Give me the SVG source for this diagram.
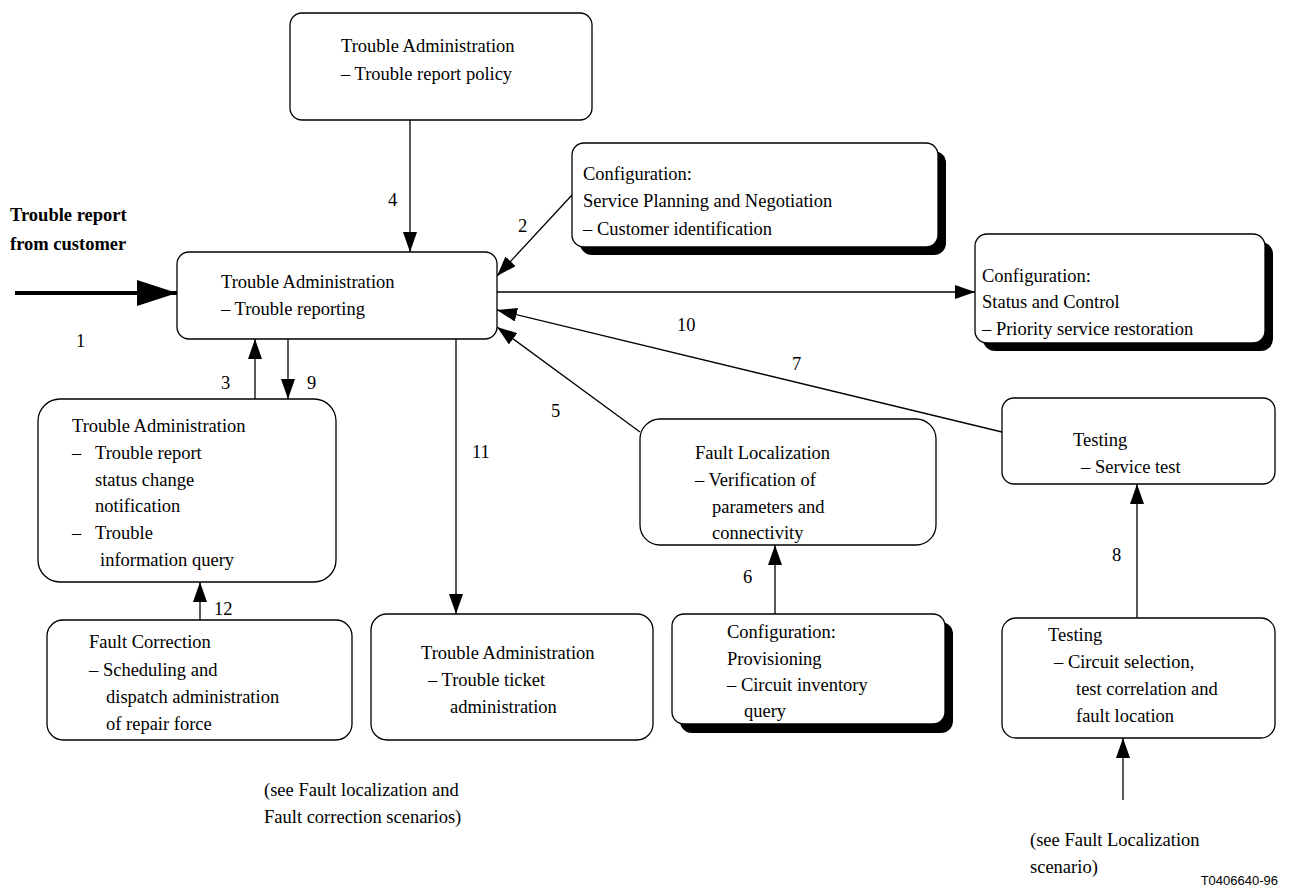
<svg xmlns="http://www.w3.org/2000/svg" width="1290" height="890" viewBox="0 0 1290 890">
<defs>
<marker id="ah" markerWidth="20" markerHeight="14" refX="20" refY="7" orient="auto" markerUnits="userSpaceOnUse"><path d="M0,0 L20,7 L0,14 Z" fill="#000"/></marker>
<marker id="ahb" markerWidth="40" markerHeight="26" refX="40" refY="13" orient="auto" markerUnits="userSpaceOnUse"><path d="M0,0 L40,13 L0,26 Z" fill="#000"/></marker>
</defs>
<style>
.box{fill:#fff;stroke:#000;stroke-width:1.3}
.sh{fill:#000}
text{font-family:"Liberation Serif","Times New Roman",serif;font-size:18.5px;fill:#000}
.b{font-weight:bold}
.sans{font-family:"Liberation Sans",Arial,sans-serif;font-size:13px}
.c{stroke:#000;stroke-width:1.3;fill:none;marker-end:url(#ah)}
</style>
<rect width="1290" height="890" fill="#fff"/>

<g id="connectors">
<line x1="15" y1="293" x2="177" y2="293" stroke="#000" stroke-width="4" marker-end="url(#ahb)"/>
<line class="c" x1="410" y1="120" x2="410" y2="252"/>
<line class="c" x1="572" y1="195" x2="497" y2="276"/>
<line class="c" x1="497" y1="292" x2="975" y2="292"/>
<line class="c" x1="1002" y1="432" x2="497" y2="310"/>
<line class="c" x1="640" y1="432" x2="497" y2="327"/>
<line class="c" x1="255" y1="399" x2="255" y2="339"/>
<line class="c" x1="288" y1="339" x2="288" y2="399"/>
<line class="c" x1="456" y1="339" x2="456" y2="614"/>
<line class="c" x1="775" y1="614" x2="775" y2="545"/>
<line class="c" x1="1137" y1="618" x2="1137" y2="484"/>
<line class="c" x1="200" y1="620" x2="200" y2="582"/>
<line class="c" x1="1123" y1="800" x2="1123" y2="738"/>
<text x="388" y="206">4</text>
<text x="518" y="232">2</text>
<text x="76" y="347">1</text>
<text x="677" y="331">10</text>
<text x="792" y="370">7</text>
<text x="551" y="417">5</text>
<text x="221" y="389">3</text>
<text x="307" y="389">9</text>
<text x="472" y="458">11</text>
<text x="743" y="583">6</text>
<text x="1112" y="561">8</text>
<text x="214" y="615">12</text>
</g>

<g id="customer">
<text class="b" x="10" y="221">Trouble report</text>
<text class="b" x="10" y="250">from customer</text>
</g>

<g id="ta-policy">
<rect class="box" x="290" y="13" width="302" height="107" rx="12"/>
<text x="341" y="52">Trouble Administration</text>
<text x="341" y="80">– Trouble report policy</text>
</g>

<g id="ta-reporting">
<rect class="box" x="177" y="252" width="320" height="87" rx="12"/>
<text x="221" y="288">Trouble Administration</text>
<text x="221" y="315">– Trouble reporting</text>
</g>

<g id="cfg-spn">
<rect class="sh" x="580" y="151" width="366" height="104" rx="12"/>
<rect class="box" x="572" y="143" width="366" height="104" rx="12"/>
<text x="583" y="180">Configuration:</text>
<text x="583" y="207">Service Planning and Negotiation</text>
<text x="583" y="235">– Customer identification</text>
</g>

<g id="cfg-sc">
<rect class="sh" x="983" y="242" width="290" height="109" rx="12"/>
<rect class="box" x="975" y="234" width="290" height="109" rx="12"/>
<text x="982" y="282">Configuration:</text>
<text x="982" y="308">Status and Control</text>
<text x="982" y="335">– Priority service restoration</text>
</g>

<g id="ta-status">
<rect class="box" x="38" y="399" width="298" height="183" rx="22"/>
<text x="72" y="432">Trouble Administration</text>
<text x="72" y="459">–</text><text x="95" y="459">Trouble report</text>
<text x="95" y="486">status change</text>
<text x="95" y="512">notification</text>
<text x="72" y="539">–</text><text x="95" y="539">Trouble</text>
<text x="100" y="566">information query</text>
</g>

<g id="fault-loc">
<rect class="box" x="640" y="419" width="296" height="126" rx="20"/>
<text x="695" y="459">Fault Localization</text>
<text x="695" y="486">– Verification of</text>
<text x="712" y="513">parameters and</text>
<text x="712" y="539">connectivity</text>
</g>

<g id="testing-service">
<rect class="box" x="1002" y="398" width="273" height="86" rx="12"/>
<text x="1073" y="446">Testing</text>
<text x="1081" y="473">– Service test</text>
</g>

<g id="fault-corr">
<rect class="box" x="47" y="620" width="305" height="120" rx="16"/>
<text x="89" y="648">Fault Correction</text>
<text x="89" y="676">– Scheduling and</text>
<text x="106" y="703">dispatch administration</text>
<text x="106" y="730">of repair force</text>
</g>

<g id="ta-ticket">
<rect class="box" x="371" y="614" width="282" height="126" rx="16"/>
<text x="421" y="659">Trouble Administration</text>
<text x="428" y="686">– Trouble ticket</text>
<text x="450" y="713">administration</text>
</g>

<g id="cfg-prov">
<rect class="sh" x="680" y="622" width="273" height="111" rx="12"/>
<rect class="box" x="672" y="614" width="273" height="110" rx="12"/>
<text x="727" y="638">Configuration:</text>
<text x="727" y="665">Provisioning</text>
<text x="727" y="691">– Circuit inventory</text>
<text x="744" y="717">query</text>
</g>

<g id="testing-circuit">
<rect class="box" x="1002" y="618" width="273" height="120" rx="14"/>
<text x="1048" y="641">Testing</text>
<text x="1054" y="668">– Circuit selection,</text>
<text x="1076" y="695">test correlation and</text>
<text x="1076" y="722">fault location</text>
</g>

<g id="notes">
<text x="264" y="796">(see Fault localization and</text>
<text x="264" y="823">Fault correction scenarios)</text>
<text x="1030" y="846">(see Fault Localization</text>
<text x="1030" y="873">scenario)</text>
<text class="sans" x="1278" y="885" text-anchor="end">T0406640-96</text>
</g>
</svg>
